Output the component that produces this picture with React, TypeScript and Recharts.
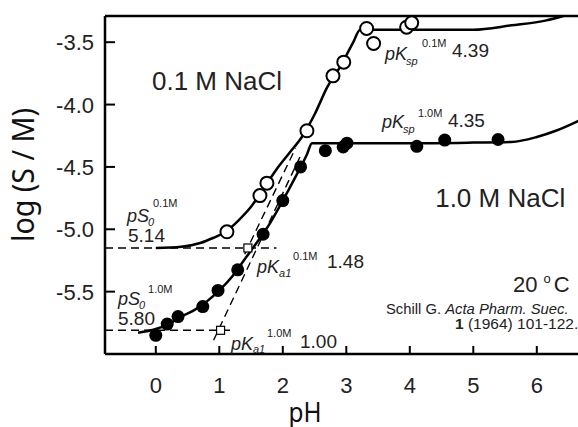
import React from "react";
import { ComposedChart, Line, Scatter, XAxis, YAxis, ReferenceLine, ReferenceDot } from "recharts";

const FONT = '"Liberation Sans", Arial, sans-serif';
const TITLE_FONT = '"Noto Sans", "Open Sans", sans-serif';

const phTicks = [0, 1, 2, 3, 4, 5, 6, 7];
const logTicks = [-5.5, -5.0, -4.5, -4.0, -3.5];

// measured solubility, 0.1 M NaCl (open circles)
const open01 = [
  { x: 1.12, y: -5.02 },
  { x: 1.64, y: -4.73 },
  { x: 1.75, y: -4.63 },
  { x: 2.38, y: -4.21 },
  { x: 2.79, y: -3.77 },
  { x: 2.96, y: -3.66 },
  { x: 3.32, y: -3.39 },
  { x: 3.43, y: -3.51 },
  { x: 3.95, y: -3.38 },
  { x: 4.03, y: -3.345 },
];

// measured solubility, 1.0 M NaCl (filled circles)
const filled10 = [
  { x: 0.0, y: -5.85 },
  { x: 0.18, y: -5.76 },
  { x: 0.35, y: -5.7 },
  { x: 0.74, y: -5.62 },
  { x: 0.98, y: -5.49 },
  { x: 1.29, y: -5.325 },
  { x: 1.69, y: -5.04 },
  { x: 2.0, y: -4.77 },
  { x: 2.28, y: -4.5 },
  { x: 2.67, y: -4.37 },
  { x: 2.95, y: -4.34 },
  { x: 3.01, y: -4.31 },
  { x: 4.11, y: -4.335 },
  { x: 4.55, y: -4.285 },
  { x: 5.39, y: -4.28 },
];

// fitted curves
const curve01 = [
  { x: 0.0, y: -5.15 }, { x: 0.4, y: -5.14 }, { x: 0.7, y: -5.11 }, { x: 0.9, y: -5.07 },
  { x: 1.1, y: -5.02 }, { x: 1.3, y: -4.93 }, { x: 1.5, y: -4.82 }, { x: 1.7, y: -4.67 },
  { x: 1.9, y: -4.52 }, { x: 2.1, y: -4.39 }, { x: 2.3, y: -4.26 }, { x: 2.5, y: -4.08 },
  { x: 2.7, y: -3.86 }, { x: 2.9, y: -3.7 }, { x: 3.1, y: -3.51 }, { x: 3.22, y: -3.4 },
  { x: 3.6, y: -3.4 }, { x: 4.2, y: -3.4 }, { x: 5.0, y: -3.4 }, { x: 5.6, y: -3.365 },
  { x: 6.15, y: -3.325 }, { x: 6.42, y: -3.29 },
];

const curve10 = [
  { x: -0.28, y: -5.83 }, { x: 0.0, y: -5.8 }, { x: 0.2, y: -5.76 }, { x: 0.4, y: -5.7 },
  { x: 0.6, y: -5.65 }, { x: 0.8, y: -5.58 }, { x: 1.0, y: -5.49 }, { x: 1.2, y: -5.38 },
  { x: 1.4, y: -5.24 }, { x: 1.6, y: -5.1 }, { x: 1.8, y: -4.95 }, { x: 2.0, y: -4.77 },
  { x: 2.2, y: -4.58 }, { x: 2.38, y: -4.4 }, { x: 2.46, y: -4.31 }, { x: 3.0, y: -4.31 },
  { x: 4.0, y: -4.31 }, { x: 5.0, y: -4.305 }, { x: 5.6, y: -4.3 }, { x: 6.0, y: -4.26 },
  { x: 6.3, y: -4.21 }, { x: 6.7, y: -4.12 },
];

// dashed construction lines
const s0Line01 = [{ x: -0.8, y: -5.15 }, { x: 1.9, y: -5.15 }];
const s0Line10 = [{ x: -0.8, y: -5.81 }, { x: 1.23, y: -5.81 }];
const ka1Line01 = [{ x: 1.4, y: -5.2 }, { x: 2.2, y: -4.35 }];
const ka1Line10 = [{ x: 0.91, y: -5.89 }, { x: 2.27, y: -4.42 }];
const pkaMarks = [{ x: 1.45, y: -5.15 }, { x: 1.02, y: -5.81 }];

const XTick = (props: any) => {
  const { x, y, payload } = props;
  return (
    <g>
      <line x1={x} x2={x} y1={y} y2={y - 8} stroke="#000" strokeWidth={2} />
      <text x={x} y={y + 39} textAnchor="middle" fontSize={22} fontFamily={FONT} fill="#222">
        {payload.value}
      </text>
    </g>
  );
};

const YTick = (props: any) => {
  const { x, y, payload } = props;
  return (
    <g>
      <line x1={x} x2={x + 10} y1={y} y2={y} stroke="#000" strokeWidth={2} />
      <text x={x - 11} y={y + 8} textAnchor="end" fontSize={22} fontFamily={FONT} fill="#222">
        {payload.value.toFixed(1)}
      </text>
    </g>
  );
};

const OpenDot = (p: any) => <circle cx={p.cx} cy={p.cy} r={6.5} fill="#fff" stroke="#000" strokeWidth={2} />;
const FilledDot = (p: any) => <circle cx={p.cx} cy={p.cy} r={6.5} fill="#000" />;
const SquareMark = (p: any) => (
  <rect x={p.cx - 4} y={p.cy - 4} width={8} height={8} fill="#fff" stroke="#000" strokeWidth={1.2} />
);

// symbol like pK_sp^0.1M 4.39
const sym = (main: string, sub: string, sup: string, value: string, o: number[]) => (p: any) => {
  const { cx, cy } = p;
  const [subDx, subDy, supDx, supDy, valDx, valDy] = o;
  return (
    <g fontFamily={FONT} fill="#222">
      <text x={cx} y={cy} fontSize={18} fontStyle="italic">{main}</text>
      <text x={cx + subDx} y={cy + subDy} fontSize={11} fontStyle="italic">{sub}</text>
      <text x={cx + supDx} y={cy + supDy} fontSize={11}>{sup}</text>
      <text x={cx + valDx} y={cy + valDy} fontSize={19}>{value}</text>
    </g>
  );
};

const plainText = (label: string, size: number) => (p: any) => (
  <text x={p.cx} y={p.cy} fontSize={size} fontFamily={FONT} fill="#222">{label}</text>
);

const TempLabel = (p: any) => (
  <text x={p.cx} y={p.cy} fontSize={22} fontFamily={FONT} fill="#222">
    20 <tspan dy={-9} fontSize={13}>o</tspan>
    <tspan dy={9} dx={3}>C</tspan>
  </text>
);

const Citation = (p: any) => (
  <g fontFamily={FONT} fill="#222">
    <text x={p.cx} y={p.cy} fontSize={14.8}>
      Schill G. <tspan fontStyle="italic">Acta Pharm. Suec.</tspan>
    </text>
    <text x={p.cx + 69} y={p.cy + 15} fontSize={15.5}>
      <tspan fontWeight="bold">1</tspan> (1964) 101-122.
    </text>
  </g>
);

const XTitle = () => (
  <text x={305} y={422} textAnchor="middle" fontSize={28} textLength={33} lengthAdjust="spacingAndGlyphs" fontFamily={TITLE_FONT} fill="#111">
    pH
  </text>
);

const YTitle = () => (
  <text
    x={34}
    y={175}
    transform="rotate(-90 34 175)"
    textAnchor="middle"
    fontSize={30}
    textLength={134}
    lengthAdjust="spacingAndGlyphs"
    fontFamily={TITLE_FONT}
    fill="#111"
  >
    log (S / M)
  </text>
);

export default function App() {
  return (
    <div style={{ position: "absolute", left: 0, top: 0, width: 578, height: 427, overflow: "hidden", background: "#fff" }}>
      <ComposedChart width={640} height={427} margin={{ top: 16, right: 27, bottom: 0, left: 0 }}>
        <XAxis
          type="number"
          dataKey="x"
          domain={[-0.8, 7.2]}
          ticks={phTicks}
          interval={0}
          allowDataOverflow
          height={73}
          tickSize={0}
          tickMargin={0}
          tickLine={false}
          axisLine={{ stroke: "#000", strokeWidth: 2.5 }}
          tick={<XTick />}
          label={<XTitle />}
        />
        <YAxis
          type="number"
          dataKey="y"
          domain={[-6.0, -3.29]}
          ticks={logTicks}
          interval={0}
          allowDataOverflow
          width={105}
          tickSize={0}
          tickMargin={0}
          tickLine={false}
          axisLine={{ stroke: "#000", strokeWidth: 2.5 }}
          tick={<YTick />}
          label={<YTitle />}
        />
        <ReferenceLine y={-3.29} stroke="#000" strokeWidth={2.5} ifOverflow="visible" />

        <Line data={s0Line01} dataKey="y" type="linear" stroke="#000" strokeWidth={1.4} strokeDasharray="8 5" dot={false} isAnimationActive={false} />
        <Line data={s0Line10} dataKey="y" type="linear" stroke="#000" strokeWidth={1.4} strokeDasharray="8 5" dot={false} isAnimationActive={false} />
        <Line data={ka1Line01} dataKey="y" type="linear" stroke="#000" strokeWidth={1.4} strokeDasharray="8 5" dot={false} isAnimationActive={false} />
        <Line data={ka1Line10} dataKey="y" type="linear" stroke="#000" strokeWidth={1.4} strokeDasharray="8 5" dot={false} isAnimationActive={false} />

        <Line data={curve01} dataKey="y" type="monotone" stroke="#000" strokeWidth={2.5} dot={false} isAnimationActive={false} />
        <Line data={curve10} dataKey="y" type="monotone" stroke="#000" strokeWidth={2.5} dot={false} isAnimationActive={false} />

        <Scatter data={open01} dataKey="y" shape={OpenDot} isAnimationActive={false} />
        <Scatter data={filled10} dataKey="y" shape={FilledDot} isAnimationActive={false} />
        <Scatter data={pkaMarks} dataKey="y" shape={SquareMark} isAnimationActive={false} />

        <ReferenceDot x={-0.06} y={-3.885} ifOverflow="visible" shape={plainText("0.1 M NaCl", 26)} />
        <ReferenceDot x={4.4} y={-4.823} ifOverflow="visible" shape={plainText("1.0 M NaCl", 26)} />
        <ReferenceDot x={3.609} y={-3.644} ifOverflow="visible" shape={sym("pK", "sp", "0.1M", "4.39", [21, 5, 37, -13, 67, -3])} />
        <ReferenceDot x={3.561} y={-4.19} ifOverflow="visible" shape={sym("pK", "sp", "1.0M", "4.35", [21, 5, 36, -11, 66, -1])} />
        <ReferenceDot x={-0.454} y={-4.943} ifOverflow="visible" shape={sym("pS", "0", "0.1M", "5.14", [21, 4, 26, -15, 1, 20])} />
        <ReferenceDot x={-0.595} y={-5.609} ifOverflow="visible" shape={sym("pS", "0", "1.0M", "5.80", [21, 4, 30, -12, 0, 20])} />
        <ReferenceDot x={1.594} y={-5.352} ifOverflow="visible" shape={sym("pK", "a1", "0.1M", "1.48", [22, 4, 36, -13, 70, -5])} />
        <ReferenceDot x={1.184} y={-5.97} ifOverflow="visible" shape={sym("pK", "a1", "1.0M", "1.00", [22, 3, 36, -13, 69, -2])} />
        <ReferenceDot x={5.625} y={-5.505} ifOverflow="visible" shape={TempLabel} />
        <ReferenceDot x={3.625} y={-5.681} ifOverflow="visible" shape={Citation} />
      </ComposedChart>
    </div>
  );
}
